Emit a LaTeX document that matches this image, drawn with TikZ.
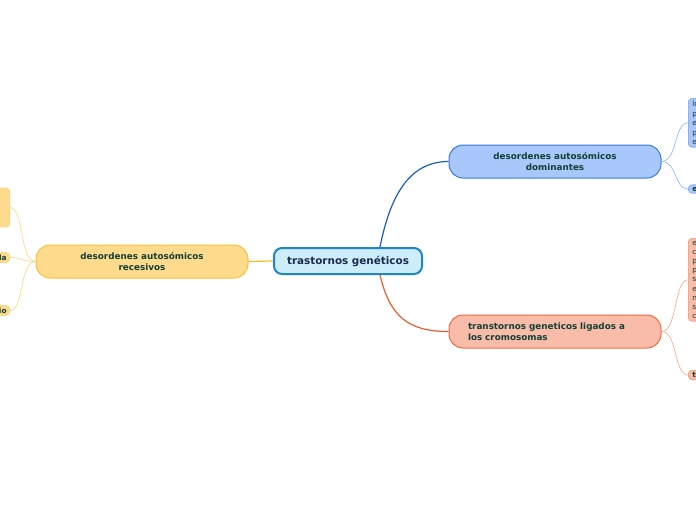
\documentclass[tikz,border=0pt]{standalone}
\usepackage{fontspec}
\setmainfont{DejaVu Sans}
\begin{document}
\begin{tikzpicture}[x=1pt,y=-1pt,
  txt/.style={text=textgreen},
  mainbox/.style={rectangle,rounded corners=14pt,line width=1pt,minimum width=212pt,minimum height=33pt,inner sep=0pt,txt,font=\fontsize{8.8}{11}\selectfont\bfseries},
  smallbox/.style={rectangle,rounded corners=3.5pt,line width=0.8pt,inner xsep=4pt,inner ysep=2.5pt,txt,align=left,font=\fontsize{7.4}{9.5}\selectfont},
  thin/.style={line width=0.6pt}]
\definecolor{textgreen}{HTML}{123F35}
\definecolor{navy}{HTML}{1B2B4B}
\definecolor{cfill}{HTML}{CDEDFB}
\definecolor{cdraw}{HTML}{1E86C8}
\definecolor{bfill}{HTML}{A8C8FC}
\definecolor{bdraw}{HTML}{3A78DE}
\definecolor{bline}{HTML}{1A5CCC}
\definecolor{bthin}{HTML}{8DB2F4}
\definecolor{ofill}{HTML}{F9BCA9}
\definecolor{odraw}{HTML}{EF6A40}
\definecolor{oline}{HTML}{EC5A2C}
\definecolor{othin}{HTML}{F7A58A}
\definecolor{yfill}{HTML}{FEDA8C}
\definecolor{ydraw}{HTML}{F8C23E}
\definecolor{yline}{HTML}{F7B82A}
\definecolor{ythin}{HTML}{FBD680}
\useasboundingbox[fill=white] (0,0) rectangle (696,520);
% main nodes
\node[rectangle,rounded corners=8pt,line width=2pt,draw=cdraw,fill=cfill,minimum width=148pt,minimum height=26pt,inner sep=0pt,text=navy,font=\fontsize{10.4}{12}\selectfont\bfseries] (c) at (348,261) {trastornos genéticos};
\node[mainbox,draw=bdraw,fill=bfill,align=center] (b) at (555,161.5) {desordenes autosómicos\\dominantes};
\node[mainbox,draw=odraw,fill=ofill,align=left,text width=174pt,inner xsep=19pt] (o) at (555,331.5) {transtornos geneticos ligados a\\los cromosomas};
\node[mainbox,draw=ydraw,fill=yfill,align=center] (y) at (142,261.5) {desordenes autosómicos\\recesivos};
% small nodes right
\node[smallbox,draw=bthin,fill=bfill,anchor=north west,text width=40pt] (b1) at (688,98) {lo\\p\\e\\p\\e};
\node[smallbox,draw=bthin,fill=bfill,anchor=west,text width=40pt,inner ysep=2pt,font=\fontsize{7.4}{9.5}\selectfont\bfseries] (b2) at (688,189) {e};
\node[smallbox,draw=othin,fill=ofill,anchor=north west,text width=40pt,font=\fontsize{7.4}{9.2}\selectfont] (o1) at (688,238) {e\\c\\p\\p\\s\\e\\n\\s\\c};
\node[smallbox,draw=othin,fill=ofill,anchor=west,text width=40pt,inner ysep=2pt,font=\fontsize{7.4}{9.5}\selectfont\bfseries] (o2) at (688,375) {t};
% small nodes left
\node[smallbox,draw=ythin,fill=yfill,anchor=east,minimum width=40pt,minimum height=39pt] (y1) at (10,207.5) {};
\node[smallbox,draw=ythin,fill=yfill,anchor=east,align=right,text width=40pt,inner ysep=2pt,inner xsep=3pt,font=\fontsize{7.4}{9.5}\selectfont\bfseries] (y2) at (10,257.5) {la};
\node[smallbox,draw=ythin,fill=yfill,anchor=east,align=right,text width=40pt,inner ysep=2pt,inner xsep=3pt,font=\fontsize{7.4}{9.5}\selectfont\bfseries] (y3) at (10,310.5) {io};
% connectors
\draw[bline,line width=1.2pt] ([xshift=32pt]c.north) .. controls +(10,-50) and +(-40,0) .. (b.west);
\draw[oline,line width=1.2pt] ([xshift=32pt]c.south) .. controls +(10,42) and +(-40,0) .. (o.west);
\draw[yline,line width=1.2pt] (c.west) -- (y.east);
\draw[bthin,thin] (b.east) .. controls +(16,0) and +(-14,0) .. (b1.west);
\draw[bthin,thin] (b.east) .. controls +(16,0) and +(-14,0) .. (b2.west);
\draw[othin,thin] (o.east) .. controls +(16,0) and +(-14,0) .. (o1.west);
\draw[othin,thin] (o.east) .. controls +(16,0) and +(-14,0) .. (o2.west);
\draw[ythin,thin] (y.west) .. controls +(-16,0) and +(14,0) .. (y1.east);
\draw[ythin,thin] (y.west) .. controls +(-16,0) and +(14,0) .. (y2.east);
\draw[ythin,thin] (y.west) .. controls +(-16,0) and +(14,0) .. (y3.east);
\end{tikzpicture}
\end{document}
